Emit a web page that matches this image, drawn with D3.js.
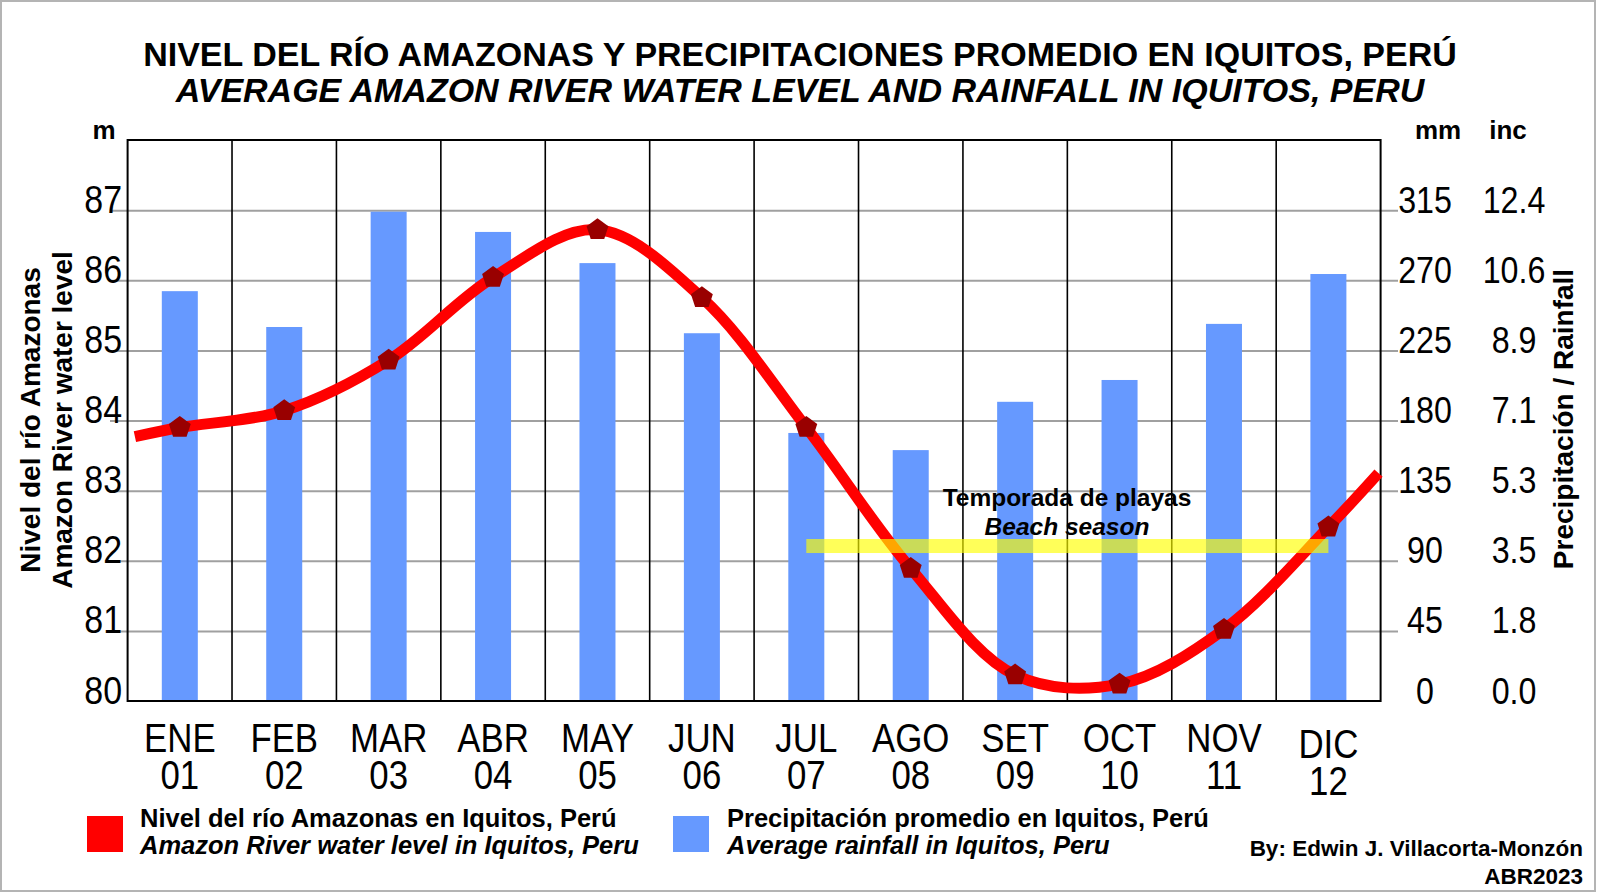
<!DOCTYPE html>
<html>
<head>
<meta charset="utf-8">
<script src="https://cdn.jsdelivr.net/npm/d3@7"></script>
<style>
  html, body { margin: 0; padding: 0; background: #ffffff; }
  svg { display: block; }
  .reg { font-family: 'Liberation Sans', Arial, sans-serif; }
</style>
</head>
<body>
<svg id="chart" width="1600" height="895"></svg>
<script>
// ---------------- data ----------------
const months = ["ENE","FEB","MAR","ABR","MAY","JUN","JUL","AGO","SET","OCT","NOV","DIC"];
const monthNums = ["01","02","03","04","05","06","07","08","09","10","11","12"];
const rainfallMm = [263, 240, 314, 301, 281, 236, 172, 161, 192, 206, 242, 274];
const riverLevelM = [83.90, 84.14, 84.86, 86.04, 86.72, 85.75, 83.90, 81.89, 80.37, 80.24, 81.02, 82.48];
// where the drawn curve meets the plot edges (month position, level in m)
const curveEdges = [{pos: -0.43, level: 83.77}, {pos: 11.48, level: 83.25}];
const levelTicks = [80, 81, 82, 83, 84, 85, 86, 87];
const mmTicks = [0, 45, 90, 135, 180, 225, 270, 315];
const incLabels = ["0.0", "1.8", "3.5", "5.3", "7.1", "8.9", "10.6", "12.4"];
const beachSeason = {from: "JUL", to: "DIC", level: 82.21};

const titleLines = ["NIVEL DEL RÍO AMAZONAS Y PRECIPITACIONES PROMEDIO EN IQUITOS, PERÚ",
                    "AVERAGE AMAZON RIVER WATER LEVEL AND RAINFALL IN IQUITOS, PERU"];

// ---------------- layout ----------------
const L = 127.6, R = 1380.6, T = 140, B = 701;
const NARROW = 0.87;
const svg = d3.select("#chart");

const x = d3.scaleBand().domain(months).range([L, R]).padding(0);
const xPos = d3.scaleLinear().domain([-0.5, 11.5]).range([L, R]);
const y = d3.scaleLinear().domain([80, 88]).range([B, T]);
const yMm = d3.scaleLinear().domain([0, 360]).range([B, T]);

// outer frame
svg.append("rect").attr("x", 1).attr("y", 1).attr("width", 1594).attr("height", 890)
  .attr("fill", "#fff").attr("stroke", "#b4b4b4").attr("stroke-width", 2);

// title
svg.append("text").attr("class", "reg").attr("x", 800).attr("y", 66)
  .attr("text-anchor", "middle").attr("font-size", 34).attr("font-weight", "bold")
  .text(titleLines[0]);
svg.append("text").attr("class", "reg").attr("x", 800).attr("y", 102)
  .attr("text-anchor", "middle").attr("font-size", 34).attr("font-weight", "bold")
  .attr("font-style", "italic").text(titleLines[1]);

// gridlines
const grid = svg.append("g").attr("transform", "translate(110,0)")
  .call(d3.axisLeft(y).tickValues(levelTicks.slice(1)).tickSize(-(1398 - 110)).tickFormat(""));
grid.select(".domain").remove();
grid.selectAll("line").attr("stroke", "#a0a0a0").attr("stroke-width", 2);

// month dividers
svg.append("g").selectAll("line").data(months.slice(1)).join("line")
  .attr("x1", d => x(d)).attr("x2", d => x(d)).attr("y1", T).attr("y2", B)
  .attr("stroke", "#000").attr("stroke-width", 1.6);

// bars
const bw = 36;
svg.append("g").selectAll("rect").data(months).join("rect")
  .attr("x", d => x(d) + (x.bandwidth() - bw) / 2)
  .attr("width", bw)
  .attr("y", (d, i) => yMm(rainfallMm[i]))
  .attr("height", (d, i) => B - yMm(rainfallMm[i]))
  .attr("fill", "#6699ff");

// plot frame
svg.append("rect").attr("x", L).attr("y", T).attr("width", R - L).attr("height", B - T)
  .attr("fill", "none").attr("stroke", "#000").attr("stroke-width", 2);

// river level curve
const pts = [{pos: curveEdges[0].pos, level: curveEdges[0].level}]
  .concat(riverLevelM.map((v, i) => ({pos: i, level: v})))
  .concat([{pos: curveEdges[1].pos, level: curveEdges[1].level}]);
const line = d3.line().x(d => xPos(d.pos)).y(d => y(d.level)).curve(d3.curveCatmullRom.alpha(0.5));
svg.append("path").attr("d", line(pts)).attr("fill", "none")
  .attr("stroke", "#ff0000").attr("stroke-width", 11).attr("stroke-linecap", "butt");

// pentagon markers
const pent = r => d3.range(5).map(k => {
  const a = -Math.PI / 2 + k * 2 * Math.PI / 5;
  return [r * Math.cos(a), r * Math.sin(a)];
});
svg.append("g").selectAll("path").data(riverLevelM).join("path")
  .attr("transform", (d, i) => `translate(${xPos(i)},${y(d)})`)
  .attr("d", "M" + pent(11.5).map(p => p.join(",")).join("L") + "Z")
  .attr("fill", "#990000");

// beach season band
svg.append("rect")
  .attr("x", x(beachSeason.from) + x.bandwidth() / 2)
  .attr("width", (x(beachSeason.to) + x.bandwidth() / 2) - (x(beachSeason.from) + x.bandwidth() / 2))
  .attr("y", y(beachSeason.level) - 7).attr("height", 14)
  .attr("fill", "#ffff00").attr("opacity", 0.65);
svg.append("text").attr("class", "reg").attr("x", 1067).attr("y", 506)
  .attr("text-anchor", "middle").attr("font-size", 24.5).attr("font-weight", "bold")
  .text("Temporada de playas");
svg.append("text").attr("class", "reg").attr("x", 1067).attr("y", 535)
  .attr("text-anchor", "middle").attr("font-size", 24.5).attr("font-weight", "bold")
  .attr("font-style", "italic").text("Beach season");

// left tick labels (narrow)
const lAx = svg.append("g").attr("class", "reg").attr("transform", "translate(122,0)")
  .call(d3.axisLeft(y).tickValues(levelTicks).tickSize(0).tickPadding(0).tickFormat(d3.format("d")));
lAx.select(".domain").remove();
lAx.selectAll("text").attr("dy", null).attr("x", 0).attr("y", 2).attr("font-size", 39)
  .attr("transform", `scale(${NARROW},1)`).attr("fill", "#000").attr("font-family", null);

// right tick labels (mm)
const rAx = svg.append("g").attr("class", "reg").attr("transform", "translate(1425,0)")
  .call(d3.axisRight(yMm).tickValues(mmTicks).tickSize(0).tickPadding(0).tickFormat(d3.format("d")));
rAx.select(".domain").remove();
rAx.selectAll("text").attr("dy", null).attr("x", 0).attr("y", 2).attr("text-anchor", "middle")
  .attr("font-size", 37).attr("transform", `scale(${NARROW},1)`).attr("fill", "#000").attr("font-family", null);

// right tick labels (inches)
const iAx = svg.append("g").attr("class", "reg").attr("transform", "translate(1514,0)")
  .call(d3.axisRight(yMm).tickValues(mmTicks).tickSize(0).tickPadding(0)
    .tickFormat((d, i) => incLabels[i]));
iAx.select(".domain").remove();
iAx.selectAll("text").attr("dy", null).attr("x", 0).attr("y", 2).attr("text-anchor", "middle")
  .attr("font-size", 37).attr("transform", `scale(${NARROW},1)`).attr("fill", "#000").attr("font-family", null);

// unit labels
svg.append("text").attr("class", "reg").attr("x", 104).attr("y", 139).attr("text-anchor", "middle")
  .attr("font-size", 26).attr("font-weight", "bold").text("m");
svg.append("text").attr("class", "reg").attr("x", 1438).attr("y", 139).attr("text-anchor", "middle")
  .attr("font-size", 26).attr("font-weight", "bold").text("mm");
svg.append("text").attr("class", "reg").attr("x", 1508).attr("y", 139).attr("text-anchor", "middle")
  .attr("font-size", 26).attr("font-weight", "bold").text("inc");

// axis titles
const lt = svg.append("text").attr("class", "reg").attr("font-size", 28).attr("font-weight", "bold")
  .attr("text-anchor", "middle").attr("transform", "translate(40,420) rotate(-90)");
lt.append("tspan").attr("x", 0).attr("y", 0).text("Nivel del río Amazonas");
lt.append("tspan").attr("x", 0).attr("y", 32).text("Amazon River water level");
svg.append("text").attr("class", "reg").attr("font-size", 28).attr("font-weight", "bold")
  .attr("text-anchor", "middle").attr("transform", "translate(1573,419) rotate(-90)")
  .text("Precipitación / Rainfall");

// x axis labels (narrow, two lines)
const xAx = svg.append("g").attr("class", "reg").attr("transform", `translate(0,${B})`)
  .call(d3.axisBottom(x).tickSize(0).tickPadding(0));
xAx.select(".domain").remove();
xAx.selectAll("text").each(function(d, i) {
  const t = d3.select(this);
  const off = (i === months.length - 1) ? 6 : 0;
  t.text(null).attr("dy", null).attr("y", 0).attr("font-size", 40)
    .attr("transform", `scale(${NARROW},1)`).attr("fill", "#000").attr("font-family", null);
  t.append("tspan").attr("x", 0).attr("y", 51 + off).text(d);
  t.append("tspan").attr("x", 0).attr("y", 88 + off).text(monthNums[i]);
});

// legend
svg.append("rect").attr("x", 87).attr("y", 816).attr("width", 36).attr("height", 36).attr("fill", "#ff0000");
svg.append("rect").attr("x", 673).attr("y", 816).attr("width", 36).attr("height", 36).attr("fill", "#6699ff");
const lg1 = svg.append("text").attr("class", "reg").attr("font-size", 25.5).attr("font-weight", "bold");
lg1.append("tspan").attr("x", 140).attr("y", 827).text("Nivel del río Amazonas en Iquitos, Perú");
lg1.append("tspan").attr("x", 140).attr("y", 854).attr("font-style", "italic").text("Amazon River water level in Iquitos, Peru");
const lg2 = svg.append("text").attr("class", "reg").attr("font-size", 25.5).attr("font-weight", "bold");
lg2.append("tspan").attr("x", 727).attr("y", 827).text("Precipitación promedio en Iquitos, Perú");
lg2.append("tspan").attr("x", 727).attr("y", 854).attr("font-style", "italic").text("Average rainfall in Iquitos, Peru");

// credits
const cr = svg.append("text").attr("class", "reg").attr("font-size", 22.5).attr("font-weight", "bold")
  .attr("text-anchor", "end");
cr.append("tspan").attr("x", 1583).attr("y", 856).text("By: Edwin J. Villacorta-Monzón");
cr.append("tspan").attr("x", 1583).attr("y", 884).text("ABR2023");
</script>
</body>
</html>
